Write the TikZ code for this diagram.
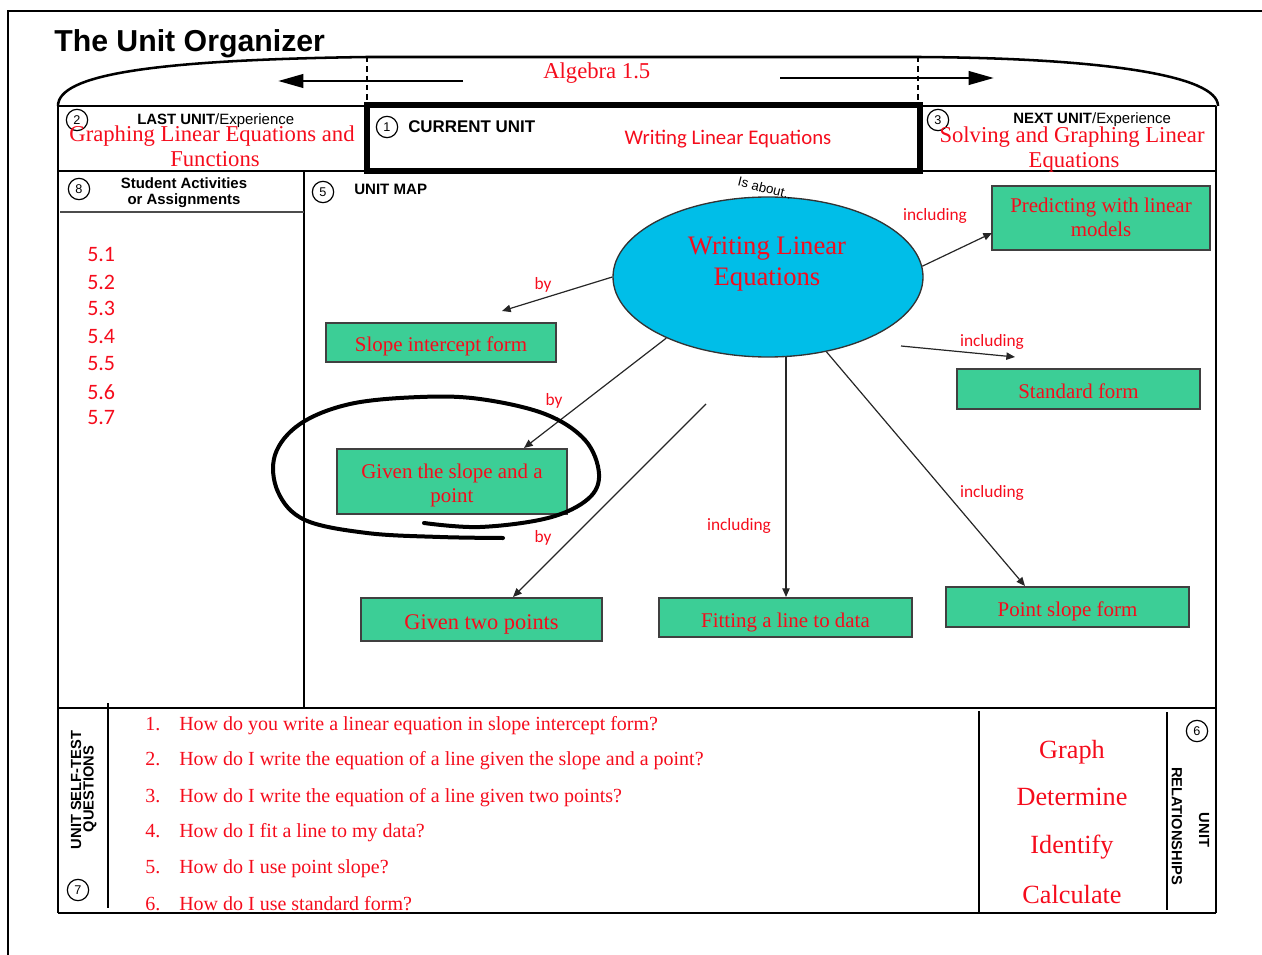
\documentclass[tikz,border=0pt]{standalone}
\usepackage{fontspec}
\setmainfont{Liberation Serif}
\newfontfamily\arialf{Liberation Sans}
\newfontfamily\calif{Carlito}
\usetikzlibrary{arrows.meta,shapes.geometric}
\definecolor{ured}{RGB}{245,12,28}
\definecolor{boxgreen}{RGB}{60,206,150}
\definecolor{ellcyan}{RGB}{0,190,232}
\newcommand{\fsz}[2]{\fontsize{#1}{#2}\selectfont}
\newcommand{\lowr}[2]{\raisebox{-#1}[\height][\depth]{#2}}
\newcommand{\twol}[2]{\begin{tabular}{@{}c@{}}#1\\#2\end{tabular}}
\begin{document}
\begin{tikzpicture}[x=0.75pt,y=-0.75pt,
  gbox/.style={draw=black!75, line width=1.1pt, fill=boxgreen, text=ured, inner sep=0pt, align=center, font=\fsz{15.7}{18}},
  conn/.style={line width=0.9pt, draw=black!85, -{Triangle[length=6.5pt,width=5.5pt]}},
  lab/.style={text=ured, font=\calif\fsz{13}{15}, inner sep=0pt},
  numc/.style={circle, draw, line width=0.9pt, minimum size=16pt, inner sep=0pt, font=\arialf\fsz{9.5}{10}},
  redtxt/.style={text=ured, inner sep=0pt},
  blk/.style={inner sep=0pt}]
\useasboundingbox (0,0) rectangle (1262,955);
% outer frame
\draw[line width=2.2pt] (1262,11) -- (8,11) -- (8,955);
% title
\node[blk, anchor=base west, font=\arialf\bfseries\fsz{22.7}{26}] (title) at (54,52) {The Unit Organizer};
% dome
\draw[line width=1.9pt] (58,106) .. controls (58,75) and (150,60) .. (367,57) -- (918,57) .. controls (1100,58) and (1218,75) .. (1218,106);
\draw[line width=1.2pt, dash pattern=on 4pt off 3pt] (367,57) -- (367,104);
\draw[line width=1.2pt, dash pattern=on 4pt off 3pt] (918,57) -- (918,104);
\coordinate (la1) at (463,81); \coordinate (la2) at (278,81);
\coordinate (ra1) at (780,78); \coordinate (ra2) at (994,78);
\draw[line width=2.2pt, -{Triangle[length=19pt,width=10pt]}] (la1) -- (la2);
\draw[line width=2.2pt, -{Triangle[length=19pt,width=10pt]}] (ra1) -- (ra2);
\node[redtxt, anchor=base west, font=\fsz{17}{20}] (alg) at (543,79) {Algebra 1.5};
% frame lines
\draw[line width=1.6pt] (58,106) -- (367,106);
\draw[line width=1.6pt] (918,106) -- (1216,106);
\draw[line width=1.9pt] (58,106) -- (58,913);
\draw[line width=1.9pt] (1216,106) -- (1216,913);
\draw[line width=1.9pt] (58,171) -- (1216,171);
\draw[line width=3.8pt] (367,105) rectangle (920,171);
\draw[line width=1.9pt] (304,171) -- (304,708);
\draw[line width=1.3pt, draw=black!70] (60,212) -- (304,212);
\draw[line width=2.2pt] (58,708) -- (1216,708);
\draw[line width=2.2pt] (58,913) -- (1216,913);
\draw[line width=1pt] (108,703) -- (108,908);
\draw[line width=1.8pt] (979,711) -- (979,913);
\draw[line width=1pt] (1167,712) -- (1167,910);
% top row
\node[numc] (n2) at (77,120) {2};
\node[blk, anchor=base west, font=\arialf\fsz{11.2}{12}] (lastu) at (137,125) {\bfseries LAST UNIT\mdseries/Experience};
\node[redtxt, anchor=base, font=\fsz{17}{19}] (lastt1) at (212,142) {Graphing Linear Equations and};
\node[redtxt, anchor=base, font=\fsz{17}{19}] (lastt2) at (215,167) {Functions};
\node[numc] (n1) at (387,127) {1};
\node[blk, anchor=base west, font=\arialf\bfseries\fsz{12.7}{14}] (curu) at (408,133) {CURRENT UNIT};
\node[redtxt, anchor=base, font=\calif\fsz{15.6}{18}] (curt) at (728,145) {Writing Linear Equations};
\node[numc] (n3) at (938,120) {3};
\node[blk, anchor=base west, font=\arialf\fsz{11.2}{12}] (nextu) at (1013,124) {\bfseries NEXT UNIT\mdseries/Experience};
\node[redtxt, anchor=base, font=\fsz{17}{19}] (nextt1) at (1072,143) {Solving and Graphing Linear};
\node[redtxt, anchor=base, font=\fsz{17}{19}] (nextt2) at (1074,168) {Equations};
% student activities
\node[numc] (n8) at (79,189) {8};
\node[blk, anchor=base, font=\arialf\bfseries\fsz{11.2}{12}] (sa1) at (184,189) {Student Activities};
\node[blk, anchor=base, font=\arialf\bfseries\fsz{11.2}{12}] (sa2) at (184,205) {or Assignments};
\foreach \i/\y in {1/255,2/282,3/308,4/337,5/364,6/392,7/418}
  \node[redtxt, anchor=west, font=\calif\fsz{16.5}{18}] (s\i) at (87,\y) {5.\i};
% unit map
\node[numc] (n5) at (323,192) {5};
\node[blk, anchor=base west, font=\arialf\bfseries\fsz{11.3}{13}] (umap) at (354,195) {UNIT MAP};
\node[ellipse, draw=black!80, line width=1pt, fill=ellcyan, minimum width=232.5pt, minimum height=120pt, inner sep=0pt] (E) at (768,277) {};
\node[redtxt, align=center, font=\fsz{20}{23.5}] (Et) at (767,264) {Writing Linear\\Equations};
\node[blk, rotate=-14, font=\arialf\fsz{10}{12}] (isab) at (765,188) {Is about..};
% boxes
\node[gbox, minimum width=163.5pt, minimum height=48pt] (pred) at (1101,218) {\lowr{1.5pt}{\twol{Predicting with linear}{models}}};
\node[gbox, minimum width=172.5pt, minimum height=29.25pt] (sif) at (441,342.5) {\lowr{3pt}{Slope intercept form}};
\node[gbox, minimum width=182.25pt, minimum height=30pt] (stf) at (1078.5,389) {\lowr{1.5pt}{Standard form}};
\node[gbox, minimum width=172.5pt, minimum height=48.75pt] (spt) at (452,481.5) {\lowr{3.5pt}{\twol{Given the slope and a}{point}}};
\node[gbox, minimum width=180.75pt, minimum height=32.25pt, font=\fsz{16.8}{18}] (gtp) at (481.5,619.5) {\lowr{3.5pt}{Given two points}};
\node[gbox, minimum width=189.75pt, minimum height=29.25pt] (fit) at (785.5,617.5) {\lowr{4pt}{Fitting a line to data}};
\node[gbox, minimum width=182.25pt, minimum height=30pt] (psf) at (1067.5,607) {\lowr{3pt}{Point slope form}};
% connectors
\coordinate (c1e) at (502,311);
\coordinate (c2e) at (524,448);
\coordinate (c3s) at (706,404); \coordinate (c3e) at (513,597);
\coordinate (c4s) at (786,357); \coordinate (c4e) at (786,597);
\coordinate (c5e) at (1025,586);
\coordinate (c6s) at (901,346); \coordinate (c6e) at (1015,357);
\coordinate (c7e) at (992,233);
\draw[conn] (E.west) -- (c1e);
\draw[conn] (E.211) -- (c2e);
\draw[conn] (c3s) -- (c3e);
\draw[conn] (c4s) -- (c4e);
\draw[conn] (E.-52.4) -- (c5e);
\draw[conn] (c6s) -- (c6e);
\draw[conn] (E.4) -- (c7e);
\node[lab] (l1) at (543,285) {by};
\node[lab] (l2) at (554,401) {by};
\node[lab] (l3) at (543,538) {by};
\node[lab] (l4) at (739,526) {including};
\node[lab] (l5) at (992,493) {including};
\node[lab] (l6) at (992,342) {including};
\node[lab] (l7) at (935,216) {including};
% hand drawn loop
\draw[line width=3pt, line cap=round, line join=round] plot[smooth, tension=0.6] coordinates {(424,523) (480,527) (548,518) (588,499) (599,474) (585,440) (545,414) (480,399) (420,397) (350,404) (300,424) (275,455) (278,492) (305,520) (367,533) (440,537) (503,538)};
% bottom
\node[blk, rotate=90, font=\arialf\bfseries\fsz{11}{12}] (st1) at (76,790) {UNIT SELF-TEST};
\node[blk, rotate=90, font=\arialf\bfseries\fsz{11}{12}] (st2) at (90,789) {QUESTIONS};
\node[numc] (n7) at (78,890) {7};
\foreach \i/\y/\t in {1/730/{How do you write a linear equation in slope intercept form?},
  2/765/{How do I write the equation of a line given the slope and a point?},
  3/802/{How do I write the equation of a line given two points?},
  4/837/{How do I fit a line to my data?},
  5/873/{How do I use point slope?},
  6/910/{How do I use standard form?}}{
  \node[redtxt, anchor=base west, font=\fsz{15}{16}] (qn\i) at (145,\y) {\i.};
  \node[redtxt, anchor=base west, font=\fsz{15}{16}] (q\i) at (179,\y) {\t};
}
\node[redtxt, anchor=base, font=\fsz{19.7}{22}] (r1) at (1072,758) {Graph};
\node[redtxt, anchor=base, font=\fsz{19.7}{22}] (r2) at (1072,805) {Determine};
\node[redtxt, anchor=base, font=\fsz{19.7}{22}] (r3) at (1072,853) {Identify};
\node[redtxt, anchor=base, font=\fsz{19.7}{22}] (r4) at (1072,903) {Calculate};
\node[numc] (n6) at (1197,731) {6};
\node[blk, rotate=-90, font=\arialf\bfseries\fsz{11}{12}] (ur1) at (1204,830) {UNIT};
\node[blk, rotate=-90, font=\arialf\bfseries\fsz{11}{12}] (ur2) at (1177,826) {RELATIONSHIPS};
\end{tikzpicture}
\end{document}
